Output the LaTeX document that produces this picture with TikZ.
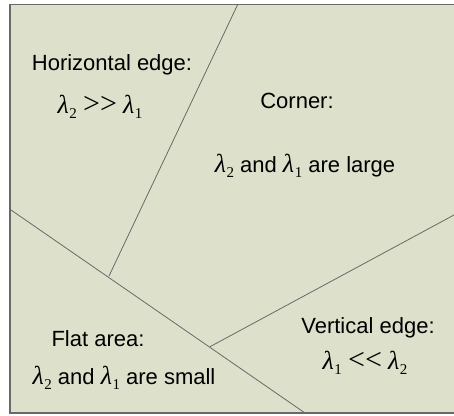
\documentclass[tikz,border=0pt]{standalone}
\usepackage{fontspec}
\setmainfont{Liberation Sans}
\newfontfamily\lamfont{Liberation Serif}
\usepackage{tikz}
\usepackage{xcolor}
\definecolor{pane}{RGB}{221,224,203}
\definecolor{rim}{RGB}{105,105,105}
% eigenvalue symbol with index
\newcommand\lam[1]{{\lamfont\fontsize{26}{26}\selectfont\itshape λ}\kern0.5pt\raisebox{-5pt}{\lamfont\fontsize{15}{15}\selectfont #1}}
\newcommand\cmp[1]{{\lamfont\fontsize{30}{30}\selectfont #1}}

\begin{document}
\begin{tikzpicture}[x=1pt,y=-1pt,
  frame/.style={rim,line width=1.3pt},
  split/.style={rim,line width=0.8pt},
  lbl/.style={font=\fontsize{22}{24}\selectfont,inner sep=0pt}]
\useasboundingbox (0,0) rectangle (454,415);
\fill[pane] (10,4.5) rectangle (454,413);
\draw[frame] (454,4.5) -- (10,4.5) -- (10,413) -- (454,413);
% region borders
\coordinate (ht) at (237.7,4.5); \coordinate (hb) at (109,276);
\coordinate (fl) at (10,209.3); \coordinate (fb) at (305,413);
\coordinate (vl) at (210,346.7); \coordinate (vr) at (454,215);
\draw[split] (ht)--(hb);
\draw[split] (fl)--(fb);
\draw[split] (vl)--(vr);
% labels
\node[lbl] (hname) at (112,65) {Horizontal edge:};
\node[lbl] (hrel) at (100,107) {\lam{2} \cmp{>>} \lam{1}};
\node[lbl] (cname) at (297,101) {Corner:};
\node[lbl] (crel) at (305,166) {\lam{2} and \lam{1} are large};
\node[lbl] (fname) at (98,339) {Flat area:};
\node[lbl] (frel) at (124,378) {\lam{2} and \lam{1} are small};
\node[lbl] (vname) at (368,328) {Vertical edge:};
\node[lbl] (vrel) at (365,363) {\lam{1} \cmp{<<} \lam{2}};
\end{tikzpicture}
\end{document}
